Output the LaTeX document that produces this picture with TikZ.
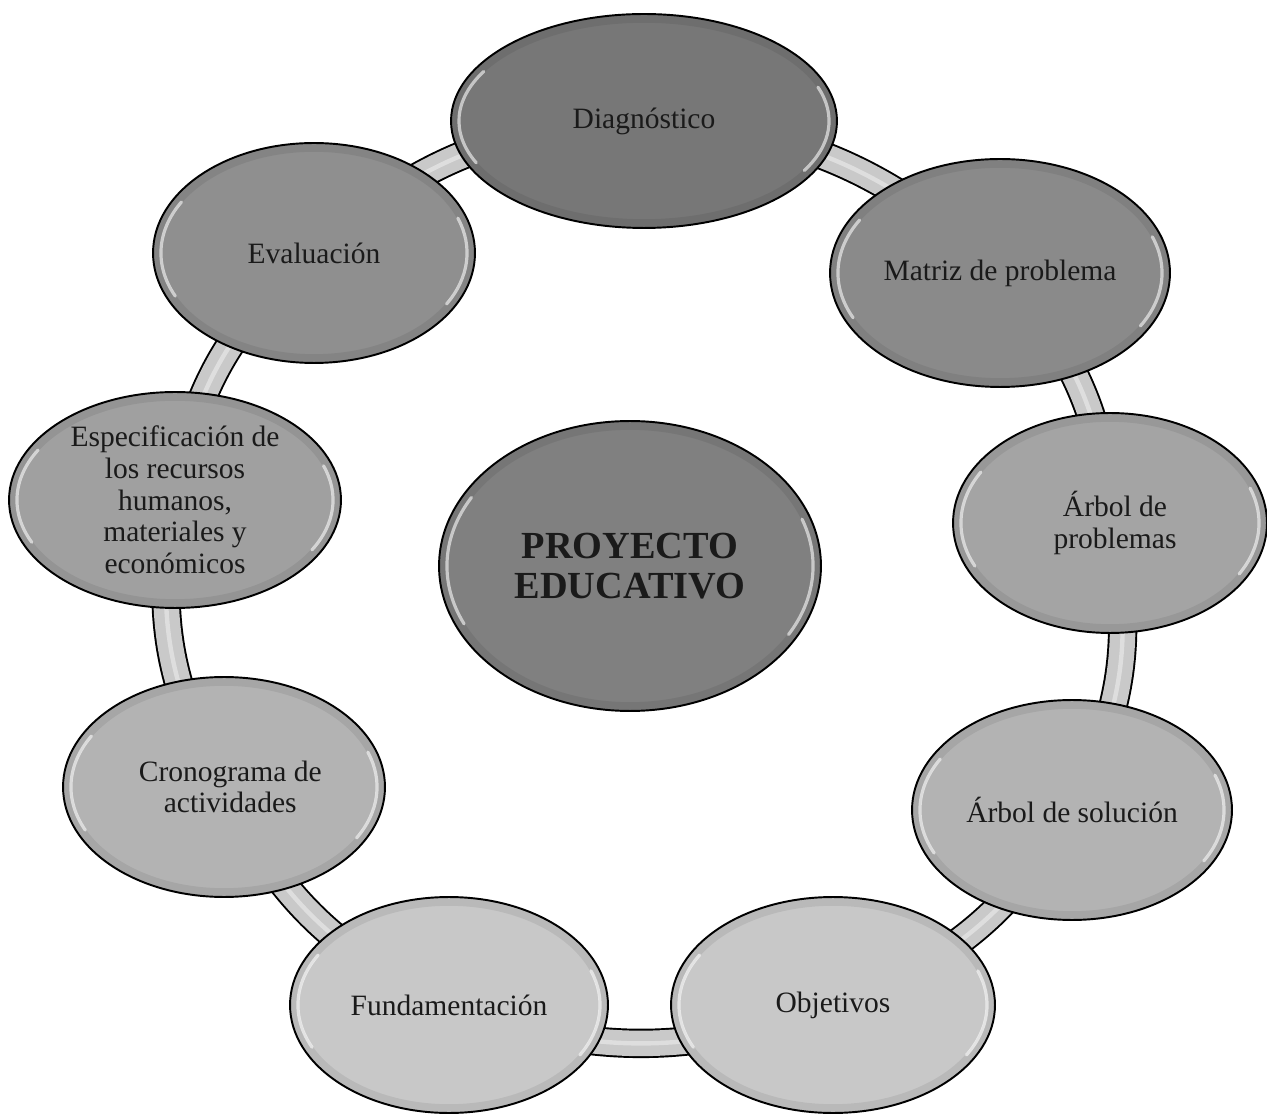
\documentclass[tikz,border=0pt]{standalone}
\usepackage{fontspec}
\setmainfont{Liberation Serif}
\usetikzlibrary{shapes.geometric,backgrounds,calc}
\definecolor{cD}{HTML}{777777}
\definecolor{cP}{HTML}{808080}
\definecolor{cM}{HTML}{8A8A8A}
\definecolor{cEv}{HTML}{8F8F8F}
\definecolor{cE}{HTML}{A0A0A0}
\definecolor{cAP}{HTML}{A4A4A4}
\definecolor{cAS}{HTML}{B3B3B3}
\definecolor{cC}{HTML}{B3B3B3}
\definecolor{cF}{HTML}{C8C8C8}
\definecolor{cO}{HTML}{C8C8C8}
\definecolor{ringfill}{HTML}{C9C9C9}
\definecolor{txt}{HTML}{1A1A1A}
\tikzset{
  gloss/.style={path picture={
    \draw[black, opacity=.07, line width=5pt]
      let \p1=(path picture bounding box.center), \p2=(path picture bounding box.north east),
          \n1={\x2-\x1-2.5pt}, \n2={\y2-\y1-2.5pt} in
      (\p1) ellipse[x radius=\n1, y radius=\n2];
    \draw[white, line width=1.8pt, opacity=.6, line cap=round]
      let \p1=(path picture bounding box.center), \p2=(path picture bounding box.north east),
          \n1={\x2-\x1-4.5pt}, \n2={\y2-\y1-4.5pt} in
      (\p1) ++(150:\n1 and \n2) arc[start angle=150, end angle=205, x radius=\n1, y radius=\n2]
      (\p1) ++(-30:\n1 and \n2) arc[start angle=-30, end angle=20, x radius=\n1, y radius=\n2];
  }},
  stage/.style={ellipse, draw=black, line width=1.1pt, inner sep=0pt, align=center,
    text=txt, font=\fontsize{16.8}{18}\selectfont, gloss},
  hub/.style={stage, font=\bfseries\fontsize{21.8}{23}\selectfont},
  ring/.style={draw=black, line width=1.1pt, double=ringfill, double distance=14.5pt},
  ringhl/.style={draw=white, line width=2.5pt, opacity=.4},
}
\begin{document}
\begin{tikzpicture}[x=0.02cm, y=0.02cm]
\useasboundingbox (0,0) rectangle (1267,1116);
\node[hub, fill=cP, minimum width=7.64cm, minimum height=5.8cm] (P) at (630,550) {PROYECTO\\EDUCATIVO};
\node[stage, fill=cD, minimum width=7.72cm, minimum height=4.28cm] (D) at (644,995) {Diagnóstico};
\node[stage, fill=cM, minimum width=6.8cm, minimum height=4.56cm] (M) at (1000,843) {Matriz de problema};
\node[stage, fill=cAP, minimum width=6.28cm, minimum height=4.4cm] (AP) at (1110,593) {\hspace*{0.2cm}Árbol de\\\hspace*{0.2cm}problemas};
\node[stage, fill=cAS, minimum width=6.4cm, minimum height=4.4cm] (AS) at (1072,306) {Árbol de solución};
\node[stage, fill=cO, minimum width=6.48cm, minimum height=4.32cm] (O) at (833,111) {Objetivos};
\node[stage, fill=cF, minimum width=6.36cm, minimum height=4.32cm] (F) at (449,111) {Fundamentación};
\node[stage, fill=cC, minimum width=6.44cm, minimum height=4.4cm] (C) at (224,329) {\hspace*{0.25cm}Cronograma de\\\hspace*{0.25cm}actividades};
\node[stage, fill=cE, minimum width=6.64cm, minimum height=4.32cm] (E) at (175,616) {Especificación de\\los recursos\\humanos,\\materiales y\\económicos};
\node[stage, fill=cEv, minimum width=6.44cm, minimum height=4.4cm] (Ev) at (314,863) {Evaluación};
\begin{scope}[on background layer]
  \foreach \a/\b in {D/M, M/AP, AP/AS, AS/O, O/F, F/C, C/E, E/Ev, Ev/D} {
    \draw[ring] (\a.center) to[bend left=20] (\b.center);
    \draw[ringhl] (\a.center) to[bend left=20] (\b.center);
  }
\end{scope}
\end{tikzpicture}
\end{document}
